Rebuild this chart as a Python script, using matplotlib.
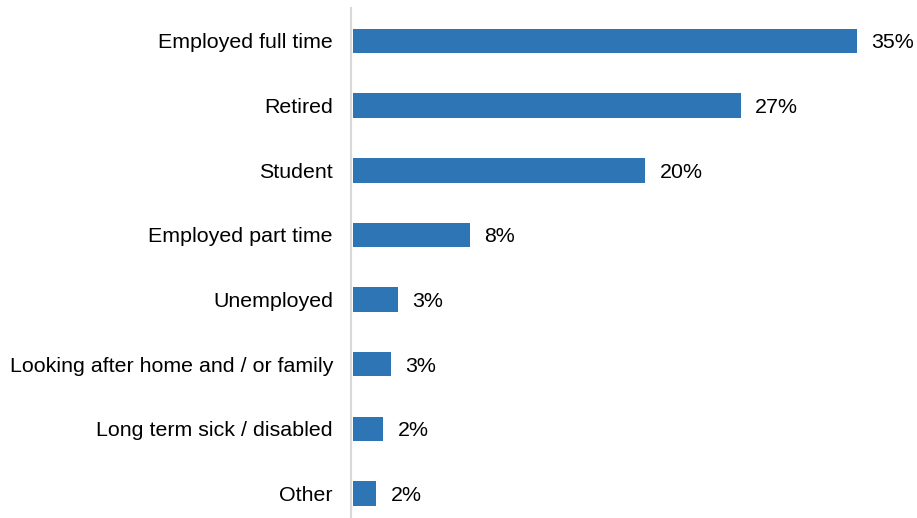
import matplotlib.pyplot as plt

plt.rcParams['font.family'] = ['Liberation Sans', 'DejaVu Sans']

categorias = [
    "Employed full time",
    "Retired",
    "Student",
    "Employed part time",
    "Unemployed",
    "Looking after home and / or family",
    "Long term sick / disabled",
    "Other",
]
percentuais = [35.0, 26.9, 20.3, 8.1, 3.1, 2.6, 2.1, 1.6]

cor_barra = "#2E75B6"

fig = plt.figure(figsize=(9.17, 5.18), dpi=100)
# eixo posicionado em pixels: esquerda 351, topo 8, base 518
ax = fig.add_axes([351 / 917, 0, 1 - 351 / 917, 510 / 518])

posicoes = list(range(len(categorias)))
ax.barh(posicoes, percentuais, height=0.38, color=cor_barra, left=0.15)

for y, v in zip(posicoes, percentuais):
    ax.text(v + 0.15 + 1.0, y, f"{v:.0f}%", va="center_baseline", ha="left", fontsize=15.4)

ax.set_yticks(posicoes)
ax.set_yticklabels(categorias, fontsize=15.4)
ax.tick_params(axis="y", length=0, pad=13)
ax.set_xticks([])
ax.set_xlim(0, 566 / 14.4)
ax.set_ylim(7.38, -0.51)

for lado in ["top", "right", "bottom"]:
    ax.spines[lado].set_visible(False)
ax.spines["left"].set_color("#D9D9D9")
ax.spines["left"].set_linewidth(1.5)

fig.savefig("out.png", dpi=100)
